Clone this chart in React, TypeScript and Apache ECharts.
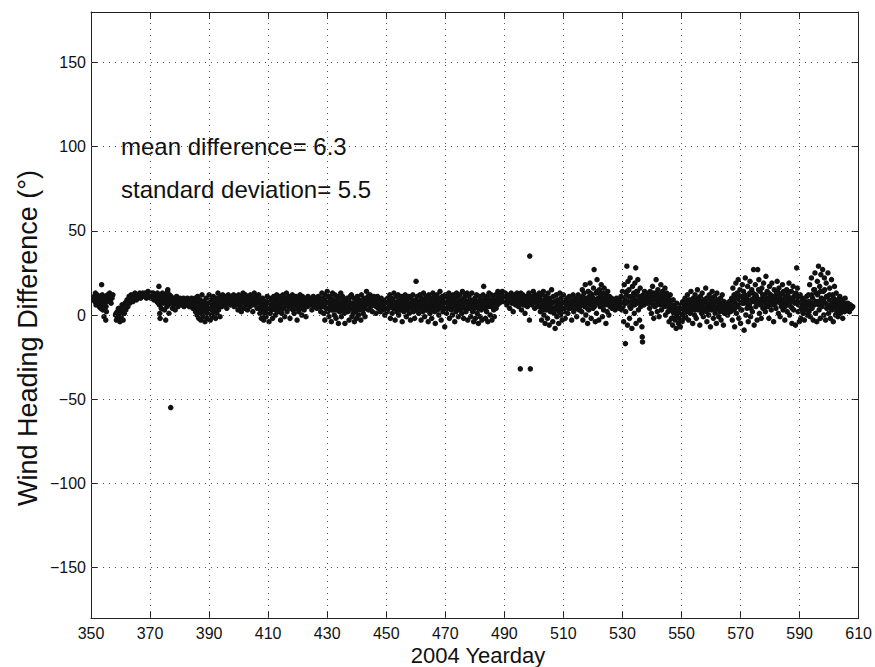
import React, { useEffect, useRef } from "react";
import * as echarts from "echarts";

// ---- axis ticks ----
const xTicks = [350, 370, 390, 410, 430, 450, 470, 490, 510, 530, 550, 570, 590, 610];
const yTicks = [-150, -100, -50, 0, 50, 100, 150];
const xGrid = [370, 390, 410, 430, 450, 470, 490, 510, 530, 550, 570, 590];
const yGrid = [-150, -100, -50, 0, 50, 100, 150];

const meanText = "mean difference= 6.3";
const stdText = "standard deviation= 5.5";

// ---- data: [yearday, wind heading difference (deg)] ----
const d351_370 = [
  [351.1,11],[351.3,8],[351.5,13],[351.7,6],[351.9,10],
  [352.1,12],[352.3,7],[352.5,9],[352.8,5],[352.9,11],
  [353.1,10],[353.3,4],[353.5,8],[353.6,18],[353.8,12],
  [354.0,3],[354.2,9],[354.4,-1],[354.6,6],[354.8,11],
  [355.0,-3],[355.2,2],[355.4,8],[355.6,12],[355.8,10],
  [356.0,11],[356.3,13],[356.5,9],[356.8,7],
  [357.1,10],[357.4,12],
  [358.3,0],[358.6,-3],[358.9,2],
  [359.1,-2],[359.3,4],[359.6,1],[359.8,-4],
  [360.0,3],[360.2,-1],[360.5,6],[360.7,2],[360.9,-3],
  [361.1,5],[361.3,1],[361.5,7],[361.8,3],
  [362.0,6],[362.2,9],[362.5,5],[362.7,8],[362.9,11],
  [363.1,7],[363.3,10],[363.6,12],[363.8,9],
  [364.0,11],[364.2,8],[364.5,12],[364.7,10],[364.9,13],
  [365.1,11],[365.4,9],[365.6,12],[365.8,10],
  [366.0,12],[366.3,11],[366.5,13],[366.8,10],
  [367.0,12],[367.3,11],[367.5,13],[367.8,12],
  [368.1,11],[368.3,13],[368.6,12],[368.8,10],
  [369.0,12],[369.3,14],[369.5,11],[369.8,13],
];

const d370_390 = [
  [370.1,12],[370.3,10],[370.6,13],[370.8,11],
  [371.1,13],[371.3,9],[371.6,12],[371.8,10],
  [372.0,11],[372.3,8],[372.5,13],[372.8,7],
  [373.0,17],[373.1,12],[373.2,6],[373.3,1],[373.4,-2],[373.6,9],[373.8,4],
  [374.0,10],[374.2,13],[374.5,7],[374.7,11],[374.9,3],
  [375.1,12],[375.3,-3],[375.5,9],[375.7,5],[375.9,14],
  [376.0,15],[376.1,10],[376.2,6],[376.4,1],[376.6,12],[376.8,8],
  [377.1,11],[377.3,7],[377.6,4],[377.8,10],
  [378.0,9],[378.3,6],[378.5,3],[378.8,8],
  [379.0,11],[379.3,7],[379.5,5],[379.8,9],
  [380.1,10],[380.3,8],[380.6,6],[380.8,9],
  [381.0,7],[381.3,10],[381.5,5],[381.8,8],
  [382.0,9],[382.3,6],[382.6,10],[382.8,7],
  [383.1,8],[383.3,5],[383.6,9],[383.8,6],
  [384.0,10],[384.3,7],[384.5,4],[384.8,9],
  [385.0,6],[385.2,10],[385.4,2],[385.7,8],[385.9,0],
  [386.1,11],[386.3,4],[386.5,-2],[386.7,7],[386.9,1],
  [387.0,9],[387.2,-3],[387.4,5],[387.6,12],[387.8,2],
  [388.0,-1],[388.2,8],[388.4,3],[388.6,-4],[388.8,6],
  [389.0,10],[389.2,1],[389.4,-2],[389.6,7],[389.8,4],
];

const d390_430 = [
  [390.0,12],[390.2,3],[390.4,-3],[390.6,9],[390.8,0],
  [391.0,6],[391.2,-1],[391.4,11],[391.6,2],[391.8,8],
  [392.0,4],[392.2,-2],[392.4,10],[392.6,1],[392.8,6],
  [393.0,13],[393.2,3],[393.5,8],[393.7,-1],[393.9,11],
  [394.1,9],[394.3,5],[394.6,12],[394.8,7],
  [395.0,10],[395.3,6],[395.5,11],[395.8,8],
  [396.0,4],[396.2,9],[396.5,12],[396.7,7],
  [397.0,10],[397.3,6],[397.5,11],[397.8,8],
  [398.0,9],[398.3,12],[398.5,5],[398.8,10],
  [399.0,11],[399.3,6],[399.5,9],[399.8,3],
  [400.0,12],[400.2,8],[400.5,5],[400.7,10],[400.9,2],
  [401.1,11],[401.3,7],[401.5,13],[401.8,4],
  [402.0,9],[402.3,12],[402.5,6],[402.8,10],
  [403.0,3],[403.3,8],[403.5,11],[403.8,5],
  [404.0,12],[404.3,7],[404.5,10],[404.8,2],
  [405.0,9],[405.3,13],[405.5,6],[405.8,11],
  [406.0,8],[406.3,4],[406.5,10],[406.8,12],
  [407.0,7],[407.2,1],[407.5,9],[407.7,-2],[407.9,5],
  [408.1,10],[408.3,3],[408.5,-3],[408.7,7],[408.9,0],
  [409.1,8],[409.3,-1],[409.5,4],[409.7,11],[409.9,2],
  [410.1,6],[410.3,-4],[410.5,9],[410.7,1],[410.9,5],
  [411.1,10],[411.3,3],[411.5,-2],[411.7,7],[411.9,11],
  [412.1,4],[412.3,9],[412.5,0],[412.7,6],[412.9,12],
  [413.1,8],[413.3,2],[413.5,10],[413.8,5],
  [414.0,11],[414.2,-3],[414.4,6],[414.6,1],[414.8,9],
  [415.0,12],[415.2,4],[415.4,8],[415.6,-1],[415.8,10],
  [416.0,6],[416.2,13],[416.4,2],[416.6,9],[416.8,5],
  [417.0,11],[417.2,7],[417.4,-2],[417.6,4],[417.8,10],
  [418.0,8],[418.2,12],[418.4,3],[418.6,6],[418.8,1],
  [419.0,9],[419.2,5],[419.4,11],[419.6,7],[419.8,-3],
  [420.0,4],[420.2,10],[420.4,2],[420.6,8],[420.8,12],
  [421.0,6],[421.2,9],[421.4,0],[421.6,11],[421.8,5],
  [422.0,8],[422.2,3],[422.4,10],[422.6,6],[422.8,-1],
  [423.0,9],[423.3,5],[423.5,11],[423.8,7],
  [424.0,10],[424.3,6],[424.5,9],[424.8,3],
  [425.0,8],[425.3,11],[425.5,5],[425.8,9],
  [426.0,7],[426.3,10],[426.5,4],[426.8,8],
  [427.0,11],[427.3,6],[427.5,9],[427.8,2],
  [428.0,8],[428.2,13],[428.4,5],[428.6,10],[428.8,1],
  [429.0,7],[429.2,-3],[429.4,12],[429.6,4],[429.8,9],
];

const d430_470 = [
  [430.0,14],[430.2,2],[430.4,8],[430.6,-1],[430.8,11],
  [431.0,5],[431.2,10],[431.4,-4],[431.6,7],[431.8,13],
  [432.0,3],[432.2,9],[432.4,0],[432.6,12],[432.8,6],
  [433.0,-2],[433.2,8],[433.4,11],[433.6,4],[433.8,-5],
  [434.0,10],[434.2,2],[434.4,7],[434.6,13],[434.8,-1],
  [435.0,6],[435.2,11],[435.4,3],[435.6,9],[435.8,1],
  [436.0,-5],[436.2,8],[436.5,4],[436.8,10],
  [437.0,2],[437.2,9],[437.4,-3],[437.6,6],[437.8,11],
  [438.0,4],[438.2,12],[438.4,-1],[438.6,7],[438.8,1],
  [439.0,10],[439.2,-4],[439.4,5],[439.6,2],[439.8,8],
  [440.0,-2],[440.2,11],[440.4,6],[440.6,0],[440.8,9],
  [441.0,3],[441.2,8],[441.4,-3],[441.6,12],[441.8,5],
  [442.0,7],[442.2,1],[442.4,10],[442.6,4],[442.8,-1],
  [443.0,9],[443.3,14],[443.5,6],[443.8,11],
  [444.0,3],[444.3,8],[444.5,12],[444.8,5],
  [445.0,10],[445.3,2],[445.5,7],[445.8,11],
  [446.0,6],[446.3,9],[446.5,1],[446.8,8],
  [447.0,11],[447.3,4],[447.5,9],[447.8,6],
  [448.0,2],[448.3,10],[448.5,7],[448.8,3],
  [449.0,8],[449.3,5],[449.5,0],[449.8,9],
  [450.0,6],[450.3,2],[450.5,10],[450.8,4],
  [451.0,8],[451.2,12],[451.4,-2],[451.6,5],[451.8,10],
  [452.0,1],[452.2,9],[452.4,4],[452.6,13],[452.8,7],
  [453.0,-3],[453.2,6],[453.4,11],[453.6,2],[453.8,8],
  [454.0,12],[454.2,0],[454.4,5],[454.6,9],[454.8,3],
  [455.0,7],[455.2,11],[455.4,-4],[455.6,4],[455.8,10],
  [456.0,2],[456.2,8],[456.4,12],[456.6,5],[456.8,-1],
  [457.0,9],[457.2,3],[457.4,7],[457.6,11],[457.8,1],
  [458.0,6],[458.2,-3],[458.4,10],[458.6,4],[458.8,8],
  [459.0,12],[459.2,2],[459.4,7],[459.6,-2],[459.8,5],
  [460.0,9],[460.3,3],[460.5,11],[460.8,6],
  [461.0,1],[461.2,8],[461.4,12],[461.6,4],[461.8,-3],
  [462.0,10],[462.2,6],[462.4,2],[462.6,13],[462.8,7],
  [463.0,-1],[463.2,9],[463.4,5],[463.6,11],[463.8,3],
  [464.0,8],[464.2,-4],[464.4,12],[464.6,6],[464.8,1],
  [465.0,10],[465.2,4],[465.4,-2],[465.6,8],[465.8,13],
  [466.0,5],[466.2,11],[466.4,2],[466.6,-5],[466.8,9],
  [467.0,7],[467.2,12],[467.4,3],[467.6,10],[467.8,0],
  [468.0,6],[468.2,14],[468.4,8],[468.6,-3],[468.8,4],
  [469.0,11],[469.2,2],[469.4,9],[469.6,5],[469.8,-7],
];

const d470_510 = [
  [470.0,12],[470.2,7],[470.4,1],[470.6,10],[470.8,4],
  [471.0,8],[471.2,13],[471.4,-2],[471.6,6],[471.8,11],
  [472.0,3],[472.2,9],[472.4,0],[472.6,12],[472.8,5],
  [473.0,10],[473.2,-4],[473.4,7],[473.6,2],[473.8,13],
  [474.0,6],[474.2,11],[474.4,-1],[474.6,8],[474.8,3],
  [475.0,12],[475.2,5],[475.4,9],[475.6,1],[475.8,14],
  [476.0,7],[476.2,-2],[476.4,10],[476.6,4],[476.8,12],
  [477.0,2],[477.2,8],[477.4,13],[477.6,-3],[477.8,6],
  [478.0,11],[478.2,4],[478.4,9],[478.6,-1],[478.8,7],
  [479.0,13],[479.2,2],[479.4,8],[479.6,-4],[479.8,5],
  [480.0,10],[480.2,-2],[480.4,6],[480.6,12],[480.8,1],
  [481.0,8],[481.2,-5],[481.4,4],[481.6,11],[481.8,-1],
  [482.0,9],[482.2,3],[482.4,-3],[482.6,7],[482.8,12],
  [483.0,17],[483.2,5],[483.4,10],[483.6,-2],[483.8,8],
  [484.0,2],[484.2,11],[484.4,-4],[484.6,6],[484.8,13],
  [485.0,9],[485.2,0],[485.4,5],[485.6,12],[485.8,-3],
  [486.0,7],[486.2,10],[486.4,3],[486.6,-1],[486.8,8],
  [487.0,12],[487.2,4],[487.4,9],[487.6,6],[487.8,14],
  [488.0,10],[488.3,7],[488.5,13],[488.8,9],
  [489.0,11],[489.3,14],[489.5,8],[489.8,12],
  [490.0,9],[490.3,13],[490.5,10],[490.8,6],
  [491.0,12],[491.3,8],[491.5,11],[491.8,4],
  [492.0,10],[492.3,13],[492.5,7],[492.8,11],
  [493.0,2],[493.3,9],[493.5,12],[493.8,6],
  [494.0,10],[494.3,13],[494.5,8],[494.8,5],
  [495.0,11],[495.3,7],[495.6,13],[495.8,3],
  [496.0,9],[496.3,12],[496.5,6],[496.8,10],
  [497.0,1],[497.3,8],[497.5,11],[497.8,5],
  [498.0,9],[498.3,13],[498.5,-3],[498.9,7],
  [499.0,11],[499.3,6],[499.5,10],[499.8,14],
  [500.0,8],[500.3,4],[500.5,12],[500.8,9],
  [501.0,7],[501.3,11],[501.5,5],[501.8,13],
  [502.0,10],[502.2,2],[502.4,8],[502.6,-3],[502.8,12],
  [503.0,5],[503.2,14],[503.4,0],[503.6,9],[503.8,-5],
  [504.0,11],[504.2,3],[504.4,7],[504.6,-2],[504.8,13],
  [505.0,6],[505.2,-6],[505.4,10],[505.6,2],[505.8,8],
  [506.0,15],[506.2,4],[506.4,-4],[506.6,11],[506.8,1],
  [507.0,8],[507.2,-8],[507.4,5],[507.6,12],[507.8,-1],
  [508.0,9],[508.2,3],[508.4,-5],[508.6,7],[508.8,13],
  [509.0,0],[509.2,10],[509.4,5],[509.6,-3],[509.8,8],
];

const d510_550 = [
  [510.0,12],[510.2,2],[510.4,6],[510.6,-2],[510.8,9],
  [511.0,5],[511.3,10],[511.5,1],[511.8,7],
  [512.0,11],[512.3,4],[512.5,8],[512.8,-3],
  [513.0,6],[513.3,12],[513.5,2],[513.8,9],
  [514.0,5],[514.3,10],[514.5,-1],[514.8,7],
  [515.0,12],[515.3,3],[515.5,8],[515.8,6],
  [516.0,10],[516.2,2],[516.4,15],[516.6,-3],[516.8,8],
  [517.0,13],[517.2,5],[517.4,18],[517.6,0],[517.8,10],
  [518.0,7],[518.2,-5],[518.4,14],[518.6,3],[518.8,11],
  [519.0,19],[519.2,6],[519.4,-2],[519.6,12],[519.8,9],
  [520.0,4],[520.2,16],[520.4,27],[520.6,8],[520.8,-4],
  [521.0,13],[521.2,1],[521.4,21],[521.6,7],[521.8,10],
  [522.0,-3],[522.2,15],[522.4,5],[522.6,11],[522.8,18],
  [523.0,8],[523.2,-1],[523.4,13],[523.6,3],[523.8,16],
  [524.0,10],[524.2,6],[524.4,-5],[524.6,12],[524.8,2],
  [525.0,14],[525.2,8],[525.4,0],[525.6,11],[525.8,5],
  [526.0,7],[526.3,10],[526.5,4],[526.8,8],
  [527.0,6],[527.3,9],[527.5,3],[527.8,7],
  [528.0,10],[528.3,5],[528.5,8],[528.8,4],
  [529.0,9],[529.3,6],[529.5,11],[529.8,3],
  [530.0,14],[530.2,5],[530.4,-4],[530.6,18],[530.8,9],
  [531.1,2],[531.3,12],[531.5,29],[531.7,-6],[531.9,20],
  [532.0,8],[532.2,15],[532.4,-2],[532.6,22],[532.8,4],
  [533.0,11],[533.2,-8],[533.4,17],[533.6,6],[533.8,13],
  [534.0,1],[534.2,19],[534.4,9],[534.5,28],[534.6,-5],[534.8,14],
  [535.0,7],[535.2,21],[535.4,3],[535.6,11],[535.8,-3],
  [536.0,16],[536.2,5],[536.4,10],[536.6,-7],[536.9,8],
  [537.0,12],[537.3,6],[537.5,14],[537.8,9],
  [538.0,8],[538.3,11],[538.5,7],[538.8,13],
  [539.0,10],[539.2,4],[539.4,14],[539.6,8],[539.8,1],
  [540.0,12],[540.2,17],[540.4,6],[540.6,-2],[540.8,10],
  [541.0,5],[541.2,13],[541.4,21],[541.6,8],[541.8,2],
  [542.0,15],[542.2,9],[542.4,-1],[542.6,12],[542.8,6],
  [543.0,18],[543.2,3],[543.4,10],[543.6,14],[543.8,7],
  [544.0,11],[544.2,5],[544.4,16],[544.6,0],[544.8,9],
  [545.0,13],[545.2,7],[545.4,2],[545.6,10],[545.8,-4],
  [546.0,8],[546.2,12],[546.4,4],[546.6,-2],[546.8,6],
  [547.0,-6],[547.2,9],[547.4,1],[547.6,5],[547.8,-3],
  [548.0,3],[548.2,-8],[548.4,7],[548.6,-1],[548.8,2],
  [549.0,-5],[549.2,4],[549.4,0],[549.6,-7],[549.8,6],
];

const d550_580 = [
  [550.0,1],[550.2,-4],[550.4,8],[550.6,3],[550.8,-2],
  [551.0,5],[551.2,10],[551.4,-1],[551.6,7],[551.8,2],
  [552.0,12],[552.2,4],[552.4,-3],[552.6,9],[552.8,6],
  [553.0,1],[553.2,14],[553.4,7],[553.6,3],[553.8,-5],
  [554.0,10],[554.2,5],[554.4,0],[554.6,12],[554.8,8],
  [555.0,-2],[555.2,6],[555.4,15],[555.6,3],[555.8,9],
  [556.0,4],[556.2,-6],[556.4,11],[556.6,7],[556.8,1],
  [557.0,13],[557.2,5],[557.4,-1],[557.6,9],[557.8,3],
  [558.0,8],[558.2,16],[558.4,2],[558.6,-4],[558.8,10],
  [559.0,6],[559.2,0],[559.4,12],[559.6,4],[559.8,-7],
  [560.0,9],[560.2,3],[560.4,14],[560.6,7],[560.8,-2],
  [561.0,5],[561.2,11],[561.4,1],[561.6,8],[561.8,-5],
  [562.0,13],[562.2,4],[562.4,9],[562.6,-1],[562.8,6],
  [563.0,2],[563.2,10],[563.4,-3],[563.6,7],[563.8,12],
  [564.0,5],[564.2,-6],[564.4,8],[564.6,1],[564.8,4],
  [565.0,7],[565.2,3],[565.4,6],[565.6,0],[565.8,5],
  [566.0,4],[566.2,8],[566.4,6],[566.6,2],[566.8,5],
  [567.0,10],[567.2,-3],[567.4,16],[567.6,3],[567.8,12],
  [568.0,-7],[568.2,7],[568.4,19],[568.6,1],[568.8,13],
  [569.0,5],[569.2,21],[569.4,-2],[569.6,9],[569.8,15],
  [570.0,-5],[570.2,11],[570.4,3],[570.6,18],[570.8,7],
  [571.0,14],[571.2,-9],[571.4,8],[571.6,22],[571.8,0],
  [572.0,10],[572.2,4],[572.4,17],[572.6,-4],[572.8,12],
  [573.0,6],[573.2,20],[573.4,-1],[573.6,9],[573.8,15],
  [574.0,2],[574.2,13],[574.4,27],[574.6,-6],[574.8,8],
  [575.0,18],[575.2,5],[575.4,11],[575.6,-3],[575.8,27],
  [576.0,9],[576.2,21],[576.4,1],[576.6,14],[576.8,6],
  [577.0,-2],[577.2,16],[577.4,10],[577.6,4],[577.8,19],
  [578.0,8],[578.2,12],[578.4,2],[578.6,23],[578.8,6],
  [579.0,14],[579.2,5],[579.4,10],[579.6,-2],[579.8,17],
];

const d580_610 = [
  [580.0,8],[580.2,12],[580.4,3],[580.6,19],[580.8,7],
  [581.0,11],[581.2,-4],[581.4,15],[581.6,6],[581.8,9],
  [582.0,4],[582.2,13],[582.4,20],[582.6,8],[582.8,1],
  [583.0,16],[583.2,10],[583.4,-1],[583.6,12],[583.8,5],
  [584.0,9],[584.2,18],[584.4,3],[584.6,14],[584.8,7],
  [585.0,-3],[585.2,11],[585.4,6],[585.6,15],[585.8,2],
  [586.0,12],[586.2,8],[586.4,19],[586.6,0],[586.8,10],
  [587.0,5],[587.2,14],[587.4,-5],[587.6,9],[587.8,17],
  [588.0,3],[588.2,11],[588.4,7],[588.6,-6],[588.8,13],
  [589.1,8],[589.3,16],[589.5,2],[589.7,11],[589.9,-4],
  [590.0,6],[590.2,12],[590.4,-2],[590.6,9],[590.8,4],
  [591.0,10],[591.2,1],[591.4,7],[591.6,-3],[591.8,5],
  [592.0,8],[592.2,3],[592.4,11],[592.6,0],[592.8,6],
  [593.0,12],[593.2,2],[593.4,18],[593.6,-1],[593.8,7],
  [594.0,22],[594.2,4],[594.4,10],[594.6,-3],[594.8,15],
  [595.0,6],[595.2,25],[595.4,1],[595.6,13],[595.8,-4],
  [596.0,20],[596.2,8],[596.4,29],[596.6,3],[596.8,17],
  [597.0,-2],[597.2,24],[597.4,10],[597.6,5],[597.8,27],
  [598.0,14],[598.2,0],[598.4,22],[598.6,7],[598.8,-3],
  [599.0,19],[599.2,4],[599.4,11],[599.6,25],[599.8,1],
  [600.0,9],[600.2,16],[600.4,-2],[600.6,6],[600.8,21],
  [601.0,3],[601.2,12],[601.4,-4],[601.6,8],[601.8,17],
  [602.0,5],[602.2,0],[602.4,13],[602.6,2],[602.8,9],
  [603.0,-1],[603.2,7],[603.4,4],[603.6,11],[603.8,1],
  [604.0,6],[604.2,3],[604.4,9],[604.6,-2],[604.8,5],
  [605.0,7],[605.2,2],[605.4,10],[605.6,4],[605.8,6],
  [606.0,3],[606.3,7],[606.6,5],[606.9,2],
  [607.2,6],[607.6,4],[608.0,5],
];

// denser readings near the middle of the band
const core351_400 = [
  [351.0,9],[351.6,10],[352.0,8],[352.6,10],[353.0,7],[353.7,9],[354.1,6],[354.7,8],[355.1,5],[355.7,9],[356.1,10],[356.6,11],[357.0,11],
  [358.5,1],[359.0,0],[359.5,2],[360.1,1],[360.6,4],[361.0,3],[361.6,5],
  [362.1,8],[362.6,7],[363.0,9],[363.5,11],[364.1,10],[364.6,11],[365.0,12],[365.5,10],[366.1,11],[366.6,12],[367.1,11],[367.6,12],[368.0,12],[368.5,11],[369.1,12],[369.6,12],[370.0,11],[370.5,12],[371.0,11],[371.5,11],[372.1,10],[372.6,10],
  [373.5,7],[374.1,8],[374.6,9],[375.0,8],[375.6,7],[376.3,8],[376.7,10],
  [377.0,9],[377.5,8],[378.1,7],[378.6,8],[379.1,9],[379.6,8],[380.0,8],[380.5,7],[381.1,9],[381.6,7],[382.1,8],[382.5,8],[383.0,7],[383.5,7],[384.1,8],[384.6,6],
  [385.1,5],[385.6,4],[386.0,6],[386.6,3],[387.1,4],[387.5,7],[388.1,3],[388.5,5],[389.1,4],[389.5,2],[390.1,6],[390.5,5],[391.1,3],[391.5,5],[392.1,4],[392.5,6],[393.1,7],[393.6,5],
  [394.0,8],[394.5,9],[395.1,8],[395.6,9],[396.1,7],[396.6,10],[397.1,9],[397.6,8],[398.1,7],[398.6,9],[399.1,8],[399.6,7],[400.1,9],[400.6,7],
];

const core401_450 = [
  [401.0,9],[401.6,9],[402.1,8],[402.6,8],[403.1,6],[403.6,8],[404.1,9],[404.6,6],[405.1,10],[405.6,8],[406.1,7],[406.6,9],
  [407.1,4],[407.6,6],[408.0,5],[408.6,2],[409.0,4],[409.6,6],[410.0,3],[410.6,5],[411.0,6],[411.6,4],[412.0,7],[412.6,3],[413.0,5],[413.6,7],[414.1,4],[414.5,3],
  [415.1,7],[415.5,5],[416.1,8],[416.5,6],[417.1,5],[417.5,8],[418.1,6],[418.5,7],[419.1,4],[419.5,8],[420.1,6],[420.5,5],[421.1,7],[421.5,4],[422.1,6],[422.5,7],[423.1,7],[423.6,8],
  [424.1,8],[424.6,7],[425.1,6],[425.6,7],[426.1,8],[426.6,6],[427.1,8],[427.6,5],[428.1,6],[428.5,7],
  [429.1,5],[429.5,7],[430.1,6],[430.5,4],[431.1,8],[431.5,3],[432.1,5],[432.5,7],[433.1,3],[433.5,6],[434.1,5],[434.5,4],[435.1,8],[435.5,5],[436.1,3],[436.6,6],[437.1,5],[437.5,3],[438.1,7],[438.5,5],[439.1,3],[439.5,6],[440.1,4],[440.5,7],[441.1,5],[441.5,6],[442.1,3],[442.5,6],
  [443.1,7],[443.6,9],[444.1,6],[444.6,8],[445.1,7],[445.6,6],[446.1,8],[446.6,5],[447.1,8],[447.6,7],[448.1,6],[448.6,5],[449.1,7],[449.6,4],[450.1,5],[450.6,7],
];

const core451_510 = [
  [451.1,5],[451.5,7],[452.1,5],[452.5,8],[453.1,4],[453.5,6],[454.1,6],[454.5,7],[455.1,3],[455.5,7],[456.1,5],[456.5,9],[457.1,6],[457.5,4],[458.1,7],[458.5,5],[459.1,6],[459.5,4],[460.2,6],[460.6,7],
  [461.1,5],[461.5,7],[462.1,4],[462.5,8],[463.1,6],[463.5,3],[464.1,5],[464.5,7],[465.1,6],[465.5,3],[466.1,7],[466.5,5],[467.1,4],[467.5,6],[468.1,9],[468.5,5],[469.1,6],[469.5,3],[470.1,8],[470.5,5],
  [471.1,6],[471.5,4],[472.1,7],[472.5,5],[473.1,6],[473.5,4],[474.1,8],[474.5,5],[475.1,7],[475.5,4],[476.1,5],[476.5,8],[477.1,4],[477.5,7],[478.1,6],[478.5,5],[479.1,6],[479.5,3],[480.1,5],[480.5,8],
  [481.1,4],[481.5,6],[482.1,5],[482.5,8],[483.1,6],[483.5,4],[484.1,7],[484.5,5],[485.1,6],[485.5,8],[486.1,5],[486.5,4],[487.1,8],[487.5,7],
  [488.1,9],[488.6,11],[489.1,10],[489.6,9],[490.1,11],[490.6,8],[491.1,10],[491.6,8],[492.1,9],[492.6,10],[493.1,7],[493.6,10],[494.1,9],[494.6,11],[495.1,9],[495.5,10],[496.1,8],[496.6,11],[497.1,6],[497.6,9],[498.1,10],[498.4,8],[499.1,9],[499.6,11],[500.1,10],[500.6,7],[501.1,9],[501.6,10],
  [502.1,5],[502.5,7],[503.1,3],[503.5,6],[504.1,5],[504.5,9],[505.1,3],[505.5,5],[506.1,7],[506.5,2],[507.1,4],[507.5,8],[508.1,5],[508.5,2],[509.1,6],[509.5,3],[510.1,4],[510.5,7],
];

const core511_560 = [
  [511.1,6],[511.6,4],[512.1,7],[512.6,5],[513.1,9],[513.6,5],[514.1,7],[514.6,4],[515.1,8],[515.6,5],
  [516.1,6],[516.5,11],[517.1,9],[517.5,7],[518.1,4],[518.5,9],[519.1,13],[519.5,7],[520.1,10],[520.5,5],[521.1,9],[521.5,14],[522.1,8],[522.5,12],[523.1,5],[523.5,10],[524.1,7],[524.5,9],[525.1,11],[525.5,6],
  [526.1,6],[526.6,8],[527.1,7],[527.6,5],[528.1,7],[528.6,6],[529.1,7],[529.6,5],
  [530.1,10],[530.5,7],[531.2,7],[531.6,14],[532.1,11],[532.5,5],[533.1,8],[533.5,10],[534.1,6],[534.3,12],[535.1,14],[535.5,8],[536.1,11],[536.5,7],[537.1,9],[537.6,11],[538.1,10],[538.6,9],
  [539.1,7],[539.5,11],[540.1,9],[540.5,13],[541.1,10],[541.5,6],[542.1,12],[542.5,8],[543.1,11],[543.5,7],[544.1,8],[544.5,12],[545.1,10],[545.5,5],[546.1,9],[546.5,3],
  [547.1,2],[547.5,-1],[548.1,1],[548.5,4],[549.1,-2],[549.5,2],[550.1,3],[550.5,0],
  [551.1,7],[551.5,3],[552.1,8],[552.5,5],[553.1,4],[553.5,9],[554.1,7],[554.5,3],[555.1,4],[555.5,10],[556.1,6],[556.5,3],[557.1,8],[557.5,4],[558.1,5],[558.5,10],[559.1,3],[559.5,7],[560.1,6],[560.5,10],
];

const core561_606 = [
  [561.1,7],[561.5,3],[562.1,8],[562.5,5],[563.1,5],[563.5,3],[564.1,2],[564.5,6],[565.1,4],[565.5,3],
  [566.1,6],[566.5,4],[567.1,6],[567.5,9],[568.1,4],[568.5,10],[569.1,12],[569.5,6],[570.1,3],[570.5,10],[571.1,7],[571.5,12],[572.1,8],[572.5,6],[573.1,13],[573.5,4],[574.1,8],[574.5,10],[575.1,12],[575.5,7],[576.1,15],[576.5,9],[577.1,7],[577.5,12],[578.1,10],[578.5,5],
  [579.1,9],[579.5,13],[580.1,10],[580.5,6],[581.1,8],[581.5,11],[582.1,9],[582.5,14],[583.1,12],[583.5,7],[584.1,13],[584.5,9],[585.1,5],[585.5,10],[586.1,14],[586.5,7],[587.1,10],[587.5,4],[588.1,8],[588.5,12],[589.2,11],[589.6,6],[590.1,9],[590.5,3],[591.1,5],[591.5,8],[592.1,5],[592.5,7],
  [593.1,8],[593.5,5],[594.1,12],[594.5,7],[595.1,15],[595.5,8],[596.1,12],[596.5,6],[597.1,14],[597.5,8],[598.1,9],[598.5,15],[599.1,11],[599.5,6],[600.1,12],[600.5,4],[601.1,7],[601.5,10],[602.1,6],[602.5,4],[603.1,4],[603.5,6],[604.1,4],[604.5,7],[605.1,5],[605.5,3],
];

const outliers = [
  [377.0,-55],[460.1,20],[495.4,-32],[498.6,35],[498.8,-32],
  [531.0,-17],[536.7,-13],[536.8,-16],[589.0,28],
];

const FONT = '"Liberation Sans", Arial, Helvetica, sans-serif';

export default function App() {
  const ref = useRef<HTMLDivElement>(null);

  useEffect(() => {
    if (!ref.current) return;
    const chart = echarts.init(ref.current, null, { renderer: "svg" });
    const allPoints = [
      ...d351_370, ...d370_390, ...d390_430, ...d430_470,
      ...d470_510, ...d510_550, ...d550_580, ...d580_610,
      ...core351_400, ...core401_450, ...core451_510, ...core511_560, ...core561_606,
      ...outliers,
    ];
    const axisLine = { show: true, onZero: false, lineStyle: { color: "#222", width: 1 } };
    const gridLineStyle = { color: "#555", width: 1, type: [1, 5] as any };

    const option: any = {
      animation: false,
      backgroundColor: "#fff",
      grid: { left: 91, top: 12, width: 769, height: 606, containLabel: false },
      xAxis: [
        {
          type: "value", min: 350, max: 610, position: "bottom",
          axisLine, splitLine: { show: false },
          axisTick: { inside: true, length: 7, customValues: xTicks, lineStyle: { color: "#222" } },
          axisLabel: { customValues: xTicks, fontSize: 16, color: "#111", fontFamily: FONT, margin: 7 },
        },
        {
          type: "value", min: 350, max: 610, position: "top",
          axisLine, splitLine: { show: false },
          axisTick: { inside: true, length: 7, customValues: xTicks, lineStyle: { color: "#222" } },
          axisLabel: { show: false },
        },
      ],
      yAxis: [
        {
          type: "value", min: -180, max: 180, position: "left",
          axisLine, splitLine: { show: false },
          axisTick: { inside: true, length: 7, customValues: yTicks, lineStyle: { color: "#222" } },
          axisLabel: {
            customValues: yTicks, fontSize: 16, color: "#111", fontFamily: FONT, margin: 5,
            formatter: (v: number) => (v < 0 ? "\u2212" + Math.abs(v) : String(v)),
          },
        },
        {
          type: "value", min: -180, max: 180, position: "right",
          axisLine, splitLine: { show: false },
          axisTick: { inside: true, length: 7, customValues: yTicks, lineStyle: { color: "#222" } },
          axisLabel: { show: false },
        },
      ],
      series: [
        {
          type: "scatter", data: [], z: 1, silent: true,
          markLine: {
            silent: true, symbol: "none", label: { show: false },
            lineStyle: gridLineStyle,
            data: [
              ...xGrid.map((v) => ({ xAxis: v })),
              ...yGrid.map((v) => ({ yAxis: v })),
            ],
          },
        },
        {
          type: "scatter", data: allPoints, z: 3,
          symbol: "circle", symbolSize: 5.5,
          itemStyle: { color: "#111", opacity: 1 },
        },
      ],
      graphic: [
        {
          type: "text", x: 121, y: 146, z: 10,
          style: { text: meanText, font: `24px ${FONT}`, fill: "#111", verticalAlign: "middle", align: "left" },
        },
        {
          type: "text", x: 121, y: 189, z: 10,
          style: { text: stdText, font: `24px ${FONT}`, fill: "#111", verticalAlign: "middle", align: "left" },
        },
        {
          type: "text", x: 478, y: 655, z: 10,
          style: { text: "2004 Yearday", font: `22px ${FONT}`, fill: "#111", verticalAlign: "middle", align: "center" },
        },
        {
          type: "text", x: 28, y: 338, rotation: Math.PI / 2, z: 10,
          style: { text: "Wind Heading Difference (\u00b0)", font: `27px ${FONT}`, fill: "#111", verticalAlign: "middle", align: "center" },
        },
      ],
    };
    chart.setOption(option);
    return () => chart.dispose();
  }, []);

  return (
    <div
      ref={ref}
      style={{ position: "absolute", left: 0, top: 0, width: 875, height: 667, background: "#fff" }}
    />
  );
}
